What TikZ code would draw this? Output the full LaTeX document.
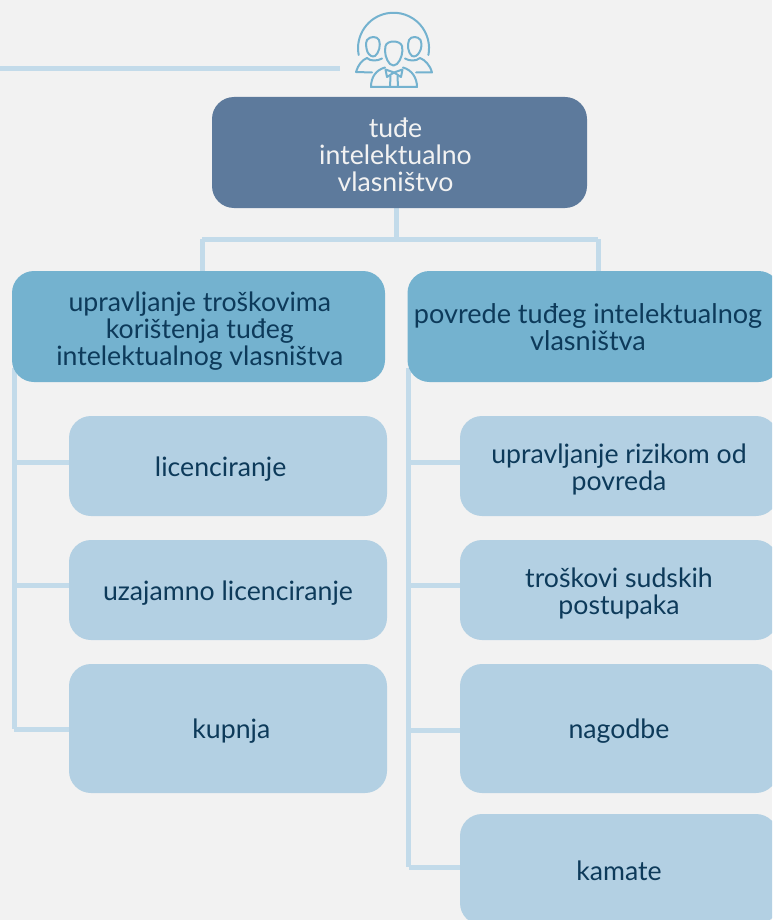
\documentclass[tikz,border=0pt]{standalone}
\usepackage{fontspec}
\setmainfont{Lato}
\usetikzlibrary{backgrounds}
\definecolor{pagebg}{HTML}{F2F2F2}
\definecolor{topfill}{HTML}{5D7A9C}
\definecolor{midfill}{HTML}{74B2CF}
\definecolor{leaffill}{HTML}{B3D0E3}
\definecolor{linecol}{HTML}{C3DBEA}
\definecolor{inkcol}{HTML}{0D3A5A}
\definecolor{iconcol}{HTML}{74B2CF}
\newcommand{\fst}[1][20pt]{\rule{0pt}{#1}}
\newcommand{\lst}{\rule[-5pt]{0pt}{5pt}}
\newcommand{\pad}[1]{\rule{#1}{0pt}}
\tikzset{
  px/.style={x=0.75pt,y=-0.75pt},
  basebox/.style={rounded corners=16.5pt,inner sep=0pt,align=center,
    font=\fontsize{20}{20.25}\selectfont,text=inkcol},
  topbox/.style={basebox,fill=topfill,text=pagebg,minimum width=281.25pt,minimum height=83.25pt},
  midbox/.style={basebox,fill=midfill,minimum width=279.75pt,minimum height=83.25pt},
  leafbox/.style={basebox,fill=leaffill,minimum width=238.5pt},
  conn/.style={draw=linecol,line width=3.75pt},
  iconline/.style={draw=iconcol,line width=1.5pt,line join=round,line cap=round}
}
\begin{document}
\begin{tikzpicture}[px]
\useasboundingbox (0,0) rectangle (772,920);
\clip (0,0) rectangle (772,920);
% boxes
\node[topbox] (root) at (399.5,152.5) {\fst[23pt]tuđe\pad{6pt}\\intelektualno\pad{6pt}\\vlasništvo\pad{6pt}\lst};
\node[midbox] (ml) at (198.5,326.5) {\fst[23pt]\pad{2pt}upravljanje troškovima\\\pad{2pt}korištenja tuđeg\\\pad{2pt}intelektualnog vlasništva\lst};
\node[midbox,font=\fontsize{20.3}{20.25}\selectfont] (mr) at (594,326.5) {\fst[21pt]povrede tuđeg intelektualnog\pad{9pt}\\vlasništva\pad{9pt}\lst};
\node[leafbox,minimum height=75pt] (l1) at (228,466) {\fst[21pt]licenciranje\pad{11pt}\lst};
\node[leafbox,minimum height=75pt] (l2) at (228,590) {\fst uzajamno licenciranje\lst};
\node[leafbox,minimum height=96.75pt] (l3) at (228,728.5) {\fst\pad{5pt}kupnja\lst};
\node[leafbox,minimum height=75pt] (r1) at (619,466) {\fst[22pt]upravljanje rizikom od\\povreda\lst};
\node[leafbox,minimum height=75pt] (r2) at (619,590) {\fst[22pt]troškovi sudskih\\postupaka\lst};
\node[leafbox,minimum height=96.75pt] (r3) at (619,728.5) {\fst nagodbe\lst};
\node[leafbox,minimum height=83.25pt] (r4) at (619,869.5) {\fst[21pt]kamate\lst};
% free ends
\coordinate (rule0) at (0,68.5);
\coordinate (rule1) at (340,68.5);
\coordinate (hub) at (396,239);
\coordinate (hubl) at (202,239);
\coordinate (hubr) at (598,239);
\coordinate (tl0) at (14,368);
\coordinate (tl1) at (14,462);
\coordinate (tl2) at (14,585);
\coordinate (tl3) at (14,729);
\coordinate (tr0) at (408.5,368);
\coordinate (tr1) at (408.5,462);
\coordinate (tr2) at (408.5,585);
\coordinate (tr3) at (408.5,730);
\coordinate (tr4) at (408.5,867);
\begin{scope}[on background layer]
\fill[pagebg] (0,0) rectangle (772,920);
\draw[conn] (rule0) -- (rule1);
\draw[conn] (root.south -| hub) -- (hub);
\draw[conn,line cap=square] (hubl) -- (hubr);
\draw[conn] (hubl) -- (ml.north -| hubl);
\draw[conn] (hubr) -- (mr.north -| hubr);
\draw[conn] (tl0) -- (tl3);
\draw[conn] (tl1) -- (l1.west |- tl1);
\draw[conn] (tl2) -- (l2.west |- tl2);
\draw[conn,line cap=square] (tl3) -- (l3.west |- tl3);
\draw[conn] (tr0) -- (tr4);
\draw[conn] (tr1) -- (r1.west |- tr1);
\draw[conn] (tr2) -- (r2.west |- tr2);
\draw[conn] (tr3) -- (r3.west |- tr3);
\draw[conn,line cap=square] (tr4) -- (r4.west |- tr4);
\end{scope}
% icon
\draw[iconline] (358.7,55) arc[start angle=169,end angle=371,radius=35.5];
\draw[iconline] (367,40) .. controls (370,36) and (377,36) .. (379,40)
  .. controls (381,45) and (379,53) .. (375,56) .. controls (372,57.5) and (369,55) .. (367.5,52)
  .. controls (366,48) and (365.5,43) .. (367,40) -- cycle;
\draw[iconline] (409,40) .. controls (411,36) and (418,36) .. (420.5,40)
  .. controls (422,44) and (421.5,49) .. (419.5,52) .. controls (418,55) and (415,57.5) .. (412,56)
  .. controls (408,53) and (407,45) .. (409,40) -- cycle;
\draw[iconline] (385.5,46) .. controls (387,40) and (400,40) .. (402,46)
  .. controls (403.5,52) and (401,60) .. (397,64) .. controls (395,66) and (392,66) .. (390,64)
  .. controls (386,60) and (384,52) .. (385.5,46) -- cycle;
\draw[iconline] (367,58) .. controls (370,61.5) and (378,61) .. (382,58.5);
\draw[iconline] (367,58) .. controls (362,60) and (358,65) .. (356,72) -- (372,72.5);
\draw[iconline] (405,58.5) .. controls (409,61) and (416,61.5) .. (420,58)
  .. controls (425,60) and (430,65) .. (432,72.5) -- (416,72.5);
\draw[iconline] (385,67.5) .. controls (376,70) and (371,77) .. (371,87) -- (417,87)
  .. controls (417,78) and (412,70) .. (403,67.5);
\draw[iconline] (385.5,69.5) -- (394,72.5) -- (387,77) -- cycle;
\draw[iconline] (402.5,69.5) -- (394,72.5) -- (401,77) -- cycle;
\draw[iconline] (390.5,76) -- (390,87);
\draw[iconline] (397.5,76) -- (398,87);
\end{tikzpicture}
\end{document}
